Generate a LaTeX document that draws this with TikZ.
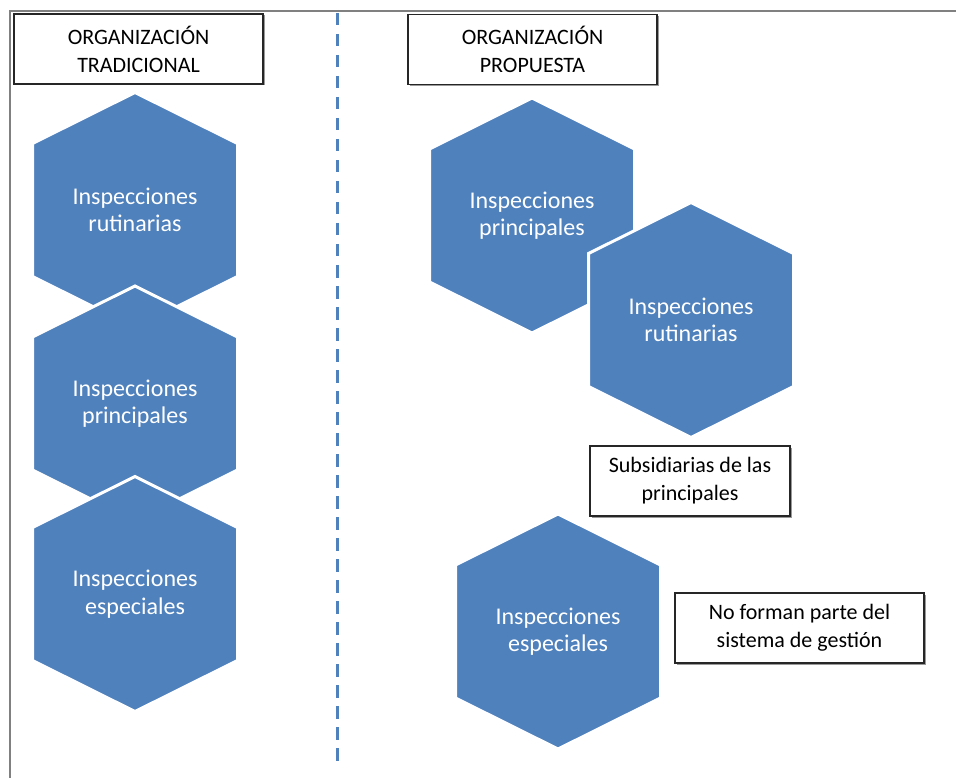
\documentclass[tikz,border=0pt]{standalone}
\usepackage{fontspec}
\setmainfont{Carlito}
\usetikzlibrary{shadows}

\definecolor{hexblue}{HTML}{4F81BD}
\definecolor{framegray}{HTML}{808080}

\tikzset{
  hexfill/.style={fill=hexblue,draw=white,line width=3pt,line join=miter},
  hextext/.style={text=white,align=center,inner sep=0pt,
    font=\fontsize{24}{27.5}\selectfont},
  labelbox/.style={draw=black!85,line width=1.1pt,fill=white,align=center,
    minimum height=70pt,inner sep=0pt,font=\fontsize{22}{28}\selectfont,
    drop shadow={shadow xshift=1.5pt,shadow yshift=-1.5pt,fill=black!40,opacity=1}},
  titlebox/.style={labelbox,minimum width=249pt,font=\fontsize{22}{28}\selectfont},
}

% hexagon: name, centre, text
\newcommand{\hexnode}[3]{%
  \path[hexfill] (#2) ++(0,-117.5) -- ++(102.5,51) -- ++(0,133) -- ++(-102.5,51)
    -- ++(-102.5,-51) -- ++(0,-133) -- cycle;
  \node[hextext] (#1) at (#2) {#3};
}

\begin{document}
\begin{tikzpicture}[x=1pt,y=-1pt]
\useasboundingbox (0,0) rectangle (956,778);
\draw[framegray,line width=2pt] (10,778) -- (10,11) -- (956,11);
\draw[hexblue,line width=3pt,dash pattern=on 12.5pt off 8.5pt] (337,13) -- (337,768);

\node[titlebox] (tradicional) at (138.5,49) {ORGANIZACIÓN\\TRADICIONAL};
\node[titlebox] (propuesta) at (532.5,49.5) {ORGANIZACIÓN\\PROPUESTA};

% traditional column
\hexnode{rutinariasA}{135,210}{Inspecciones\\rutinarias}
\hexnode{principalesA}{135,403.5}{Inspecciones\\principales}
\hexnode{especialesA}{135,594}{Inspecciones\\especiales}

% proposed column
\hexnode{principalesB}{532,215.5}{Inspecciones\\principales}
\hexnode{rutinariasB}{691,320}{Inspecciones\\rutinarias}
\hexnode{especialesB}{558,631.5}{Inspecciones\\especiales}

\node[labelbox,minimum width=200pt] (subsidiarias) at (690,481) {Subsidiarias de las\\principales};
\node[labelbox,minimum width=249pt] (noforman) at (799.5,628) {No forman parte del\\sistema de gestión};
\end{tikzpicture}
\end{document}
